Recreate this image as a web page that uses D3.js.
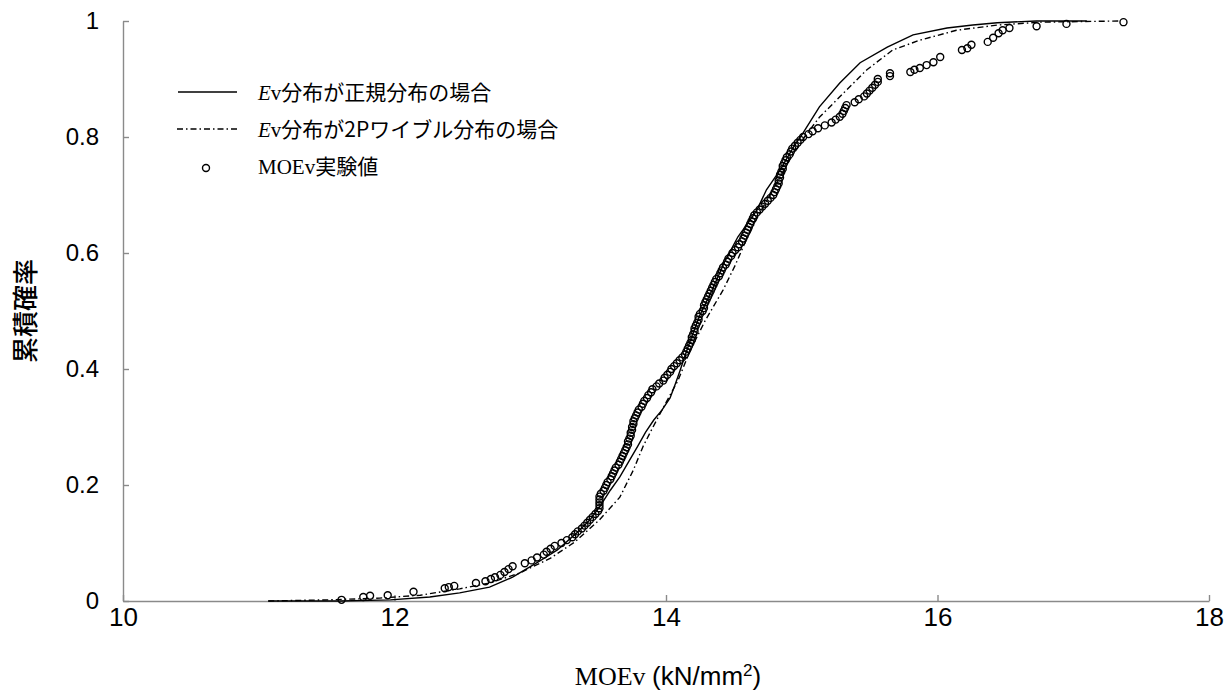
<!DOCTYPE html>
<html>
<head>
<meta charset="utf-8">
<script src="https://cdn.jsdelivr.net/npm/d3@7"></script>
<style>
  body { margin: 0; background: #fff; }
  svg { display: block; }
</style>
</head>
<body>
<svg id="chart" width="1231" height="692"></svg>
<script>
// Axis ticks
const xTicks = [10, 12, 14, 16, 18];
const yTicks = [0, 0.2, 0.4, 0.6, 0.8, 1];
const yTickLabels = ["0", "0.2", "0.4", "0.6", "0.8", "1"];

// Ev normal-distribution curve (MOEv, cumulative probability)
const normalMOE  = [11.07, 11.60, 11.97, 12.26, 12.48, 12.70, 12.87, 13.05, 13.20, 13.34, 13.44, 13.51, 13.59, 13.66, 13.72, 13.79, 13.85, 13.91, 13.97, 14.03, 14.07, 14.10, 14.13, 14.18, 14.25, 14.34, 14.43, 14.53, 14.62, 14.67, 14.74, 14.84, 14.94, 15.01, 15.13, 15.28, 15.43, 15.63, 15.82, 16.07, 16.26, 16.44, 16.73, 17.10];
const normalProb = [0.000, 0.000, 0.002, 0.007, 0.014, 0.024, 0.041, 0.066, 0.088, 0.117, 0.140, 0.162, 0.191, 0.214, 0.238, 0.266, 0.291, 0.312, 0.329, 0.350, 0.375, 0.395, 0.416, 0.450, 0.493, 0.536, 0.584, 0.628, 0.657, 0.674, 0.709, 0.743, 0.783, 0.807, 0.852, 0.893, 0.928, 0.955, 0.976, 0.988, 0.993, 0.997, 1.000, 1.000];

// Ev two-parameter Weibull curve
const weibullMOE  = [11.07, 11.52, 11.89, 12.19, 12.48, 12.70, 12.92, 13.15, 13.33, 13.51, 13.66, 13.76, 13.83, 13.90, 13.97, 14.03, 14.09, 14.18, 14.29, 14.42, 14.51, 14.59, 14.69, 14.80, 14.91, 15.02, 15.13, 15.33, 15.48, 15.67, 15.87, 16.14, 16.44, 16.76, 17.34];
const weibullProb = [0.000, 0.002, 0.005, 0.010, 0.021, 0.031, 0.048, 0.074, 0.102, 0.140, 0.179, 0.226, 0.266, 0.298, 0.329, 0.355, 0.381, 0.433, 0.484, 0.536, 0.579, 0.622, 0.669, 0.714, 0.760, 0.800, 0.834, 0.881, 0.916, 0.950, 0.967, 0.984, 0.993, 0.998, 1.000];

// MOEv test results
const testMOE = [
  11.61, 11.77, 11.82, 11.95, 12.14, 12.37, 12.40, 12.44, 12.60, 12.67, 12.71, 12.74, 12.78,
  12.81, 12.84, 12.87, 12.96, 13.01, 13.05, 13.10, 13.12, 13.15, 13.18,
  13.23, 13.27, 13.31, 13.33, 13.35, 13.38, 13.40, 13.42, 13.44, 13.46,
  13.48, 13.50, 13.51, 13.51, 13.51, 13.51, 13.51, 13.52, 13.54, 13.55,
  13.56, 13.57, 13.59, 13.60, 13.61, 13.62, 13.63, 13.65, 13.66, 13.67,
  13.68, 13.69, 13.70, 13.71, 13.72, 13.72, 13.73, 13.74, 13.74, 13.75,
  13.75, 13.76, 13.76, 13.77, 13.78, 13.79, 13.80, 13.82, 13.83, 13.84,
  13.86, 13.87, 13.89, 13.90, 13.93, 13.95, 13.98, 13.99, 14.01, 14.03,
  14.04, 14.06, 14.08, 14.10, 14.12, 14.14, 14.15, 14.16, 14.17, 14.18,
  14.19, 14.19, 14.20, 14.21, 14.21, 14.22, 14.23, 14.24, 14.24, 14.25,
  14.27, 14.28, 14.28, 14.29, 14.30, 14.31, 14.32, 14.33, 14.34, 14.35,
  14.36, 14.37, 14.39, 14.40, 14.41, 14.42, 14.44, 14.45, 14.46, 14.48,
  14.49, 14.51, 14.53, 14.54, 14.56, 14.57, 14.58, 14.59, 14.60, 14.61,
  14.62, 14.63, 14.64, 14.65, 14.67, 14.69, 14.71, 14.73, 14.75, 14.77,
  14.79, 14.80, 14.81, 14.82, 14.83, 14.83, 14.84, 14.84, 14.85, 14.86,
  14.86, 14.87, 14.88, 14.89, 14.91, 14.92, 14.93, 14.95, 14.97, 14.99,
  15.01, 15.05, 15.08, 15.12, 15.17, 15.22, 15.25, 15.28, 15.30, 15.31,
  15.32, 15.33, 15.39, 15.42, 15.46, 15.48, 15.50, 15.52, 15.54, 15.56,
  15.56,
  15.65, 15.65, 15.80, 15.83, 15.87, 15.92, 15.97, 16.02, 16.18, 16.22,
  16.25, 16.37, 16.41, 16.45, 16.48, 16.53, 16.73, 16.95, 17.37
];
const testProb = [
  0.002, 0.007, 0.009, 0.010, 0.016, 0.022, 0.024, 0.026, 0.031, 0.034, 0.038, 0.041, 0.045,
  0.050, 0.055, 0.060, 0.065, 0.070, 0.075, 0.080, 0.085, 0.090, 0.095,
  0.100, 0.105, 0.110, 0.115, 0.120, 0.125, 0.130, 0.135, 0.140, 0.145,
  0.150, 0.155, 0.160, 0.165, 0.170, 0.175, 0.180, 0.185, 0.190, 0.195,
  0.200, 0.205, 0.210, 0.215, 0.220, 0.225, 0.230, 0.235, 0.240, 0.245,
  0.250, 0.255, 0.260, 0.265, 0.270, 0.275, 0.280, 0.285, 0.290, 0.295,
  0.300, 0.305, 0.310, 0.315, 0.320, 0.325, 0.330, 0.335, 0.340, 0.345,
  0.350, 0.355, 0.360, 0.365, 0.370, 0.375, 0.380, 0.385, 0.390, 0.395,
  0.400, 0.405, 0.410, 0.415, 0.420, 0.425, 0.430, 0.435, 0.440, 0.445,
  0.450, 0.455, 0.460, 0.465, 0.470, 0.475, 0.480, 0.485, 0.490, 0.495,
  0.500, 0.505, 0.510, 0.515, 0.520, 0.525, 0.530, 0.535, 0.540, 0.545,
  0.550, 0.555, 0.560, 0.565, 0.570, 0.575, 0.580, 0.585, 0.590, 0.595,
  0.600, 0.605, 0.610, 0.615, 0.620, 0.625, 0.630, 0.635, 0.640, 0.645,
  0.650, 0.655, 0.660, 0.665, 0.670, 0.675, 0.680, 0.685, 0.690, 0.695,
  0.700, 0.705, 0.710, 0.715, 0.720, 0.725, 0.730, 0.735, 0.740, 0.745,
  0.750, 0.755, 0.760, 0.765, 0.770, 0.775, 0.780, 0.785, 0.790, 0.795,
  0.800, 0.805, 0.810, 0.815, 0.820, 0.825, 0.830, 0.835, 0.840, 0.845,
  0.850, 0.855, 0.860, 0.865, 0.870, 0.875, 0.880, 0.885, 0.890, 0.895,
  0.900,
  0.905, 0.910, 0.912, 0.916, 0.919, 0.924, 0.929, 0.938, 0.950, 0.953,
  0.959, 0.964, 0.971, 0.979, 0.984, 0.988, 0.991, 0.995, 0.998
];

const svg = d3.select("#chart");
const width = 1231, height = 692;
const margin = { top: 21, right: 22, bottom: 91, left: 123 };

const x = d3.scaleLinear().domain([10, 18]).range([margin.left, width - margin.right]);
const y = d3.scaleLinear().domain([0, 1]).range([height - margin.bottom, margin.top]);

const AXIS_GREY = "#8a8a8a";
const SANS = "'Liberation Sans', Arial, sans-serif";
const SERIF = "'Liberation Serif', 'Times New Roman', serif";
const CJK = "'Noto Sans CJK JP', sans-serif";

// x axis (ticks point into the plot)
const gx = svg.append("g")
  .attr("transform", `translate(0,${y(0)})`)
  .call(d3.axisBottom(x).tickValues(xTicks).tickFormat(d3.format("d"))
    .tickSizeInner(-6).tickSizeOuter(0).tickPadding(7));
gx.select(".domain").attr("stroke", AXIS_GREY).attr("stroke-width", 1.4);
gx.selectAll(".tick line").attr("stroke", AXIS_GREY).attr("stroke-width", 1.4);
gx.selectAll(".tick text").attr("font-family", SANS).attr("font-size", 26).attr("fill", "#000");

// y axis
const gy = svg.append("g")
  .attr("transform", `translate(${x(10)},0)`)
  .call(d3.axisLeft(y).tickValues(yTicks).tickFormat((d, i) => yTickLabels[i])
    .tickSizeInner(-6).tickSizeOuter(0).tickPadding(24));
gy.select(".domain").attr("stroke", AXIS_GREY).attr("stroke-width", 1.4);
gy.selectAll(".tick line").attr("stroke", AXIS_GREY).attr("stroke-width", 1.4);
gy.selectAll(".tick text").attr("font-family", SANS).attr("font-size", 24).attr("fill", "#000");

// axis titles
svg.append("text")
  .attr("transform", `translate(35,${(y(0) + y(1)) / 2}) rotate(-90)`)
  .attr("text-anchor", "middle")
  .attr("font-family", CJK)
  .attr("font-size", 26)
  .attr("font-weight", 500)
  .attr("fill", "#000")
  .text("累積確率");

const xTitle = svg.append("text")
  .attr("x", (x(10) + x(18)) / 2 + 2)
  .attr("y", 685)
  .attr("text-anchor", "middle")
  .attr("font-size", 26)
  .attr("fill", "#000");
xTitle.append("tspan").attr("font-family", SERIF).text("MOEv ");
xTitle.append("tspan").attr("font-family", SANS).text("(kN/mm");
xTitle.append("tspan").attr("font-family", SANS).attr("font-size", 17).attr("dy", -9).text("2");
xTitle.append("tspan").attr("font-family", SANS).attr("dy", 9).text(")");

// curves
const line = d3.line().x(d => x(d[0])).y(d => y(d[1]));

svg.append("path")
  .datum(d3.zip(weibullMOE, weibullProb))
  .attr("d", line)
  .attr("fill", "none")
  .attr("stroke", "#000")
  .attr("stroke-width", 1.4)
  .attr("stroke-dasharray", "6,3,1.5,3");

svg.append("path")
  .datum(d3.zip(normalMOE, normalProb))
  .attr("d", line)
  .attr("fill", "none")
  .attr("stroke", "#000")
  .attr("stroke-width", 1.4);

// test results
svg.append("g")
  .selectAll("circle")
  .data(d3.zip(testMOE, testProb))
  .join("circle")
  .attr("cx", d => x(d[0]))
  .attr("cy", d => y(d[1]))
  .attr("r", 3.5)
  .attr("fill", "none")
  .attr("stroke", "#000")
  .attr("stroke-width", 1.4);

// legend
const legend = svg.append("g");
const rows = [92, 129, 166];
legend.append("line").attr("x1", 178).attr("x2", 237).attr("y1", rows[0]).attr("y2", rows[0])
  .attr("stroke", "#000").attr("stroke-width", 1.4);
legend.append("line").attr("x1", 177).attr("x2", 237).attr("y1", rows[1]).attr("y2", rows[1])
  .attr("stroke", "#000").attr("stroke-width", 1.4).attr("stroke-dasharray", "6,3,1.5,3");
legend.append("circle").attr("cx", 206).attr("cy", rows[2] + 2).attr("r", 3.5)
  .attr("fill", "none").attr("stroke", "#000").attr("stroke-width", 1.4);

function legendLabel(row, parts) {
  const t = legend.append("text").attr("x", 258).attr("y", row + 8).attr("font-size", 21).attr("fill", "#000");
  parts.forEach(p => {
    const s = t.append("tspan").attr("font-family", p.f).text(p.t);
    if (p.italic) s.attr("font-style", "italic");
  });
}
legendLabel(rows[0], [
  { t: "E", f: SERIF, italic: true }, { t: "v", f: SERIF }, { t: "分布が正規分布の場合", f: CJK }
]);
legendLabel(rows[1], [
  { t: "E", f: SERIF, italic: true }, { t: "v", f: SERIF }, { t: "分布が2Pワイブル分布の場合", f: CJK }
]);
legendLabel(rows[2], [
  { t: "MOEv", f: SERIF }, { t: "実験値", f: CJK }
]);
</script>
</body>
</html>
